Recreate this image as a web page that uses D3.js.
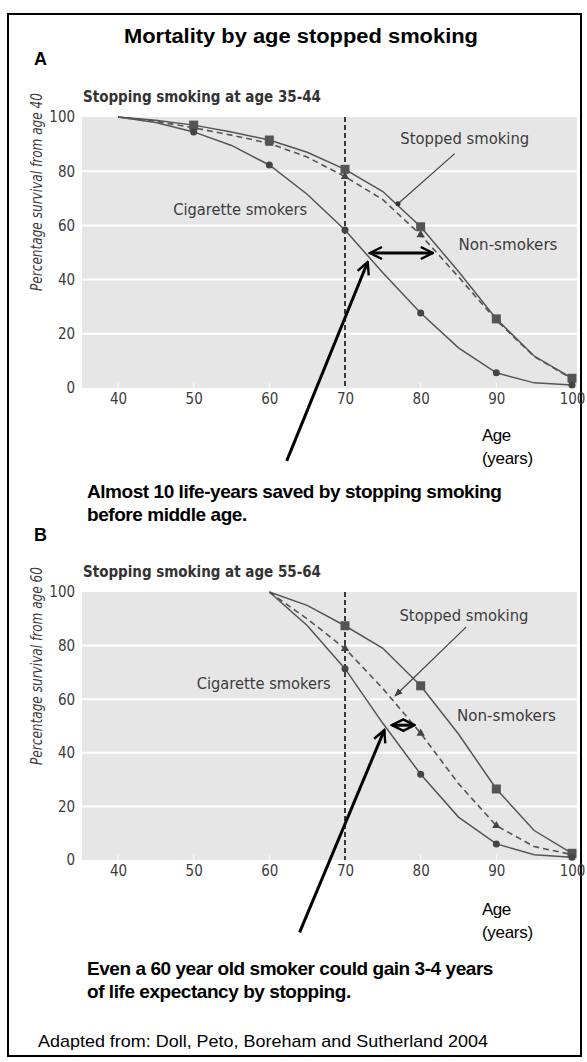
<!DOCTYPE html>
<html>
<head>
<meta charset="utf-8">
<script src="https://cdn.jsdelivr.net/npm/d3@7/dist/d3.min.js"></script>
<style>
  html, body { margin: 0; padding: 0; background: #fff; }
  svg { display: block; }
  .cond { font-family: "Liberation Sans Narrow", "Arial Narrow", "DejaVu Sans Condensed", "Liberation Sans", Arial, sans-serif; font-stretch: condensed; }
  .ann { font-family: "Liberation Sans", Arial, Helvetica, sans-serif; }
</style>
</head>
<body>
<script>
// ---------- Data ----------
const xTicks = [40, 50, 60, 70, 80, 90, 100];
const yTicks = [0, 20, 40, 60, 80, 100];
const markerAges = [50, 60, 70, 80, 90, 100];

// Panel A: stopping at age 35-44 (survival from age 40)
const agesA = [40, 45, 50, 55, 60, 65, 70, 75, 80, 85, 90, 95, 100];
const nonSmokersA = [100, 98.8, 97, 94.5, 91.5, 87, 80.7, 72.5, 59.5, 43, 25.5, 11.8, 3.6];
const stoppedA    = [100, 98.4, 96, 93.3, 90.3, 85.2, 78, 69.5, 56.5, 41, 25, 11.6, 3.4];
const smokersA    = [100, 98, 94.5, 89.5, 82.3, 71.5, 58.3, 42.5, 27.7, 14.8, 5.6, 1.9, 1.1];

// Panel B: stopping at age 55-64 (survival from age 60)
const agesB = [60, 65, 70, 75, 80, 85, 90, 95, 100];
const nonSmokersB = [100, 95, 87.4, 79, 65, 47, 26.5, 11, 2.5];
const stoppedB    = [100, 90, 78.9, 64, 47.3, 28.5, 12.8, 5, 2];
const smokersB    = [100, 87.5, 71.4, 51, 32, 16, 6, 2, 1];

const subtitleA = "Stopping smoking at age 35-44";
const subtitleB = "Stopping smoking at age 55-64";
const yTitleA = "Percentage survival from age 40";
const yTitleB = "Percentage survival from age 60";

// ---------- Layout ----------
const W = 587, H = 1062;
const svg = d3.select("body").append("svg").attr("width", W).attr("height", H);

svg.append("rect").attr("x", 8).attr("y", 14).attr("width", 573).attr("height", 1042)
  .attr("fill", "none").attr("stroke", "#000").attr("stroke-width", 2);

const defs = svg.append("defs");
defs.append("marker").attr("id", "chev").attr("viewBox", "0 0 10 10")
  .attr("refX", 9).attr("refY", 5).attr("markerWidth", 5).attr("markerHeight", 5)
  .attr("markerUnits", "strokeWidth").attr("orient", "auto-start-reverse")
  .append("path").attr("d", "M1,1 L9,5 L1,9").attr("fill", "none")
  .attr("stroke", "#000").attr("stroke-width", 1.6).attr("stroke-linejoin", "miter");
defs.append("marker").attr("id", "thinhead").attr("viewBox", "0 0 10 10")
  .attr("refX", 9).attr("refY", 5).attr("markerWidth", 7).attr("markerHeight", 7)
  .attr("markerUnits", "strokeWidth").attr("orient", "auto")
  .append("path").attr("d", "M0,1 L10,5 L0,9 Z").attr("fill", "#444");

svg.append("text").attr("class", "ann").attr("x", 301).attr("y", 43)
  .attr("text-anchor", "middle").attr("font-weight", "bold").attr("font-size", 20)
  .attr("textLength", 354).attr("lengthAdjust", "spacingAndGlyphs")
  .text("Mortality by age stopped smoking");

const lineColor = "#555";
const textColor = "#3c3c3c";

function drawPanel(cfg) {
  const x = d3.scaleLinear().domain([40, 100]).range([118, 572]);
  const y = d3.scaleLinear().domain([0, 100]).range([cfg.y0, cfg.y100]);
  const g = svg.append("g");

  // background
  g.append("rect").attr("x", x(35.25)).attr("y", y(100)).attr("width", x(100.65) - x(35.25))
    .attr("height", y(0) - y(100)).attr("fill", "#e6e6e6");
  // gridlines
  g.selectAll(".grid").data(yTicks.filter(d => d > 0 && d < 100)).enter().append("line")
    .attr("x1", x(35.25)).attr("x2", x(100.65)).attr("y1", d => y(d)).attr("y2", d => y(d))
    .attr("stroke", "#fff").attr("stroke-width", 2);

  // axes
  const xAxis = g.append("g").attr("transform", `translate(0,${y(0)})`)
    .call(d3.axisBottom(x).tickValues(xTicks).tickSize(0).tickPadding(5));
  xAxis.select(".domain").remove();
  xAxis.selectAll("text").attr("class", "cond").attr("font-size", 15).attr("fill", textColor);
  g.selectAll(".xt").data(xTicks).enter().append("line")
    .attr("x1", d => x(d)).attr("x2", d => x(d)).attr("y1", y(0) - 5).attr("y2", y(0))
    .attr("stroke", "#fff").attr("stroke-width", 1);

  const yAxis = g.append("g").attr("transform", `translate(${x(35.25) - 7},0)`)
    .call(d3.axisLeft(y).tickValues(yTicks).tickSize(0).tickPadding(0));
  yAxis.select(".domain").remove();
  yAxis.selectAll("text").attr("class", "cond").attr("font-size", 15).attr("fill", textColor);

  // y title
  g.append("text").attr("class", "cond")
    .attr("transform", `translate(42,${cfg.yTitleY}) rotate(-90)`)
    .attr("text-anchor", "middle").attr("font-style", "italic").attr("font-size", 15)
    .attr("fill", textColor).attr("textLength", 198).attr("lengthAdjust", "spacingAndGlyphs")
    .text(cfg.yTitle);

  // subtitle
  g.append("text").attr("class", "cond").attr("x", 83).attr("y", y(100) - 15)
    .attr("font-weight", "bold").attr("font-size", 16).attr("fill", "#333")
    .attr("textLength", 238).attr("lengthAdjust", "spacingAndGlyphs").text(cfg.subtitle);

  // dashed vertical at age 70
  g.append("line").attr("x1", x(70)).attr("x2", x(70)).attr("y1", y(100)).attr("y2", y(0))
    .attr("stroke", "#000").attr("stroke-width", 1.5).attr("stroke-dasharray", "5,3");

  const line = d3.line().x(d => x(d[0])).y(d => y(d[1])).curve(d3.curveLinear);
  const zip = (a, v) => a.map((t, i) => [t, v[i]]);

  g.append("path").datum(zip(cfg.ages, cfg.nonSmokers)).attr("d", line)
    .attr("fill", "none").attr("stroke", lineColor).attr("stroke-width", 1.5);
  g.append("path").datum(zip(cfg.ages, cfg.stopped)).attr("d", line)
    .attr("fill", "none").attr("stroke", lineColor).attr("stroke-width", 1.6)
    .attr("stroke-dasharray", "6,4");
  g.append("path").datum(zip(cfg.ages, cfg.smokers)).attr("d", line)
    .attr("fill", "none").attr("stroke", lineColor).attr("stroke-width", 1.5);

  const pick = (a, v) => zip(a, v).filter(d => markerAges.includes(d[0]) && d[0] > a[0]);
  // triangles
  g.selectAll(".tri").data(pick(cfg.ages, cfg.stopped)).enter().append("path")
    .attr("d", d3.symbol().type(d3.symbolTriangle).size(30))
    .attr("transform", d => `translate(${x(d[0])},${y(d[1])})`).attr("fill", "#444");
  // squares
  g.selectAll(".sq").data(pick(cfg.ages, cfg.nonSmokers)).enter().append("rect")
    .attr("x", d => x(d[0]) - 4.5).attr("y", d => y(d[1]) - 4.5).attr("width", 9).attr("height", 9)
    .attr("fill", "#555");
  // circles
  g.selectAll(".ci").data(pick(cfg.ages, cfg.smokers)).enter().append("circle")
    .attr("cx", d => x(d[0])).attr("cy", d => y(d[1])).attr("r", 3.5).attr("fill", "#444");

  // labels inside
  g.append("text").attr("class", "cond").attr("x", x(cfg.cigLabel[0])).attr("y", y(cfg.cigLabel[1]))
    .attr("font-size", 15).attr("fill", textColor).attr("textLength", 134)
    .attr("lengthAdjust", "spacingAndGlyphs").text("Cigarette smokers");
  g.append("text").attr("class", "cond").attr("x", x(cfg.stopLabel[0])).attr("y", y(cfg.stopLabel[1]))
    .attr("font-size", 15).attr("fill", textColor).attr("textLength", 129)
    .attr("lengthAdjust", "spacingAndGlyphs").text("Stopped smoking");
  g.append("text").attr("class", "cond").attr("x", x(cfg.nonLabel[0])).attr("y", y(cfg.nonLabel[1]))
    .attr("font-size", 15).attr("fill", textColor).attr("textLength", 99)
    .attr("lengthAdjust", "spacingAndGlyphs").text("Non-smokers");

  // pointer for "Stopped smoking"
  const p = cfg.stopPointer;
  const ptr = g.append("line").attr("x1", x(p[0])).attr("y1", y(p[1])).attr("x2", x(p[2])).attr("y2", y(p[3]))
    .attr("stroke", "#444").attr("stroke-width", 1.2);
  if (cfg.pointerArrow) ptr.attr("marker-end", "url(#thinhead)");
  else g.append("circle").attr("cx", x(p[2])).attr("cy", y(p[3])).attr("r", 2.5).attr("fill", "#333");

  // double-headed gain arrow
  const h = cfg.gainArrow;
  g.append("line").attr("x1", x(h[0])).attr("x2", x(h[1])).attr("y1", y(h[2])).attr("y2", y(h[2]))
    .attr("stroke", "#000").attr("stroke-width", 3)
    .attr("marker-start", "url(#chev)").attr("marker-end", "url(#chev)");

  // long pointer arrow
  const l = cfg.longArrow;
  g.append("line").attr("x1", x(l[0])).attr("y1", y(l[1])).attr("x2", x(l[2])).attr("y2", y(l[3]))
    .attr("stroke", "#000").attr("stroke-width", 3).attr("marker-end", "url(#chev)");

  // Age (years)
  g.append("text").attr("class", "ann").attr("x", cfg.ageX).attr("y", y(0) + cfg.ageDy)
    .attr("font-size", 17).attr("fill", "#000").attr("letter-spacing", -0.5).text("Age");
  g.append("text").attr("class", "ann").attr("x", cfg.ageX).attr("y", y(0) + cfg.ageDy + 23)
    .attr("font-size", 17).attr("fill", "#000").attr("letter-spacing", -0.3).text("(years)");

  // letter
  svg.append("text").attr("class", "ann").attr("x", 34).attr("y", cfg.letterY)
    .attr("font-weight", "bold").attr("font-size", 18).text(cfg.letter);

  // caption
  cfg.caption.forEach((c, i) => {
    svg.append("text").attr("class", "ann").attr("x", 87).attr("y", cfg.captionY + i * 23)
      .attr("font-weight", "bold").attr("font-size", 19).attr("letter-spacing", -0.45).text(c);
  });
}

drawPanel({
  letter: "A", letterY: 65,
  y0: 388, y100: 117, yTitleY: 192,
  ages: agesA, nonSmokers: nonSmokersA, stopped: stoppedA, smokers: smokersA,
  subtitle: subtitleA, yTitle: yTitleA,
  cigLabel: [47.3, 63.8], stopLabel: [77.3, 90], nonLabel: [85, 50.9],
  stopPointer: [84.5, 86.5, 77, 68], pointerArrow: false,
  gainArrow: [73.3, 81.6, 49.8],
  longArrow: [62.3, -26.9, 73.0, 46.5],
  ageX: 482, ageDy: 53,
  caption: ["Almost 10 life-years saved by stopping smoking", "before middle age."], captionY: 498
});

drawPanel({
  letter: "B", letterY: 541,
  y0: 860, y100: 592, yTitleY: 666,
  ages: agesB, nonSmokers: nonSmokersB, stopped: stoppedB, smokers: smokersB,
  subtitle: subtitleB, yTitle: yTitleB,
  cigLabel: [50.4, 63.7], stopLabel: [77.2, 89.1], nonLabel: [84.8, 51.7],
  stopPointer: [86.0, 86.9, 76.6, 61.2], pointerArrow: true,
  gainArrow: [76.2, 79.2, 50.3],
  longArrow: [64.0, -27, 75.2, 48.5],
  ageX: 482, ageDy: 55,
  caption: ["Even a 60 year old smoker could gain 3-4 years", "of life expectancy by stopping."], captionY: 975
});

svg.append("text").attr("class", "ann").attr("x", 38).attr("y", 1047)
  .attr("font-size", 17).attr("textLength", 450).attr("lengthAdjust", "spacingAndGlyphs")
  .text("Adapted from: Doll, Peto, Boreham and Sutherland 2004");
</script>
</body>
</html>
